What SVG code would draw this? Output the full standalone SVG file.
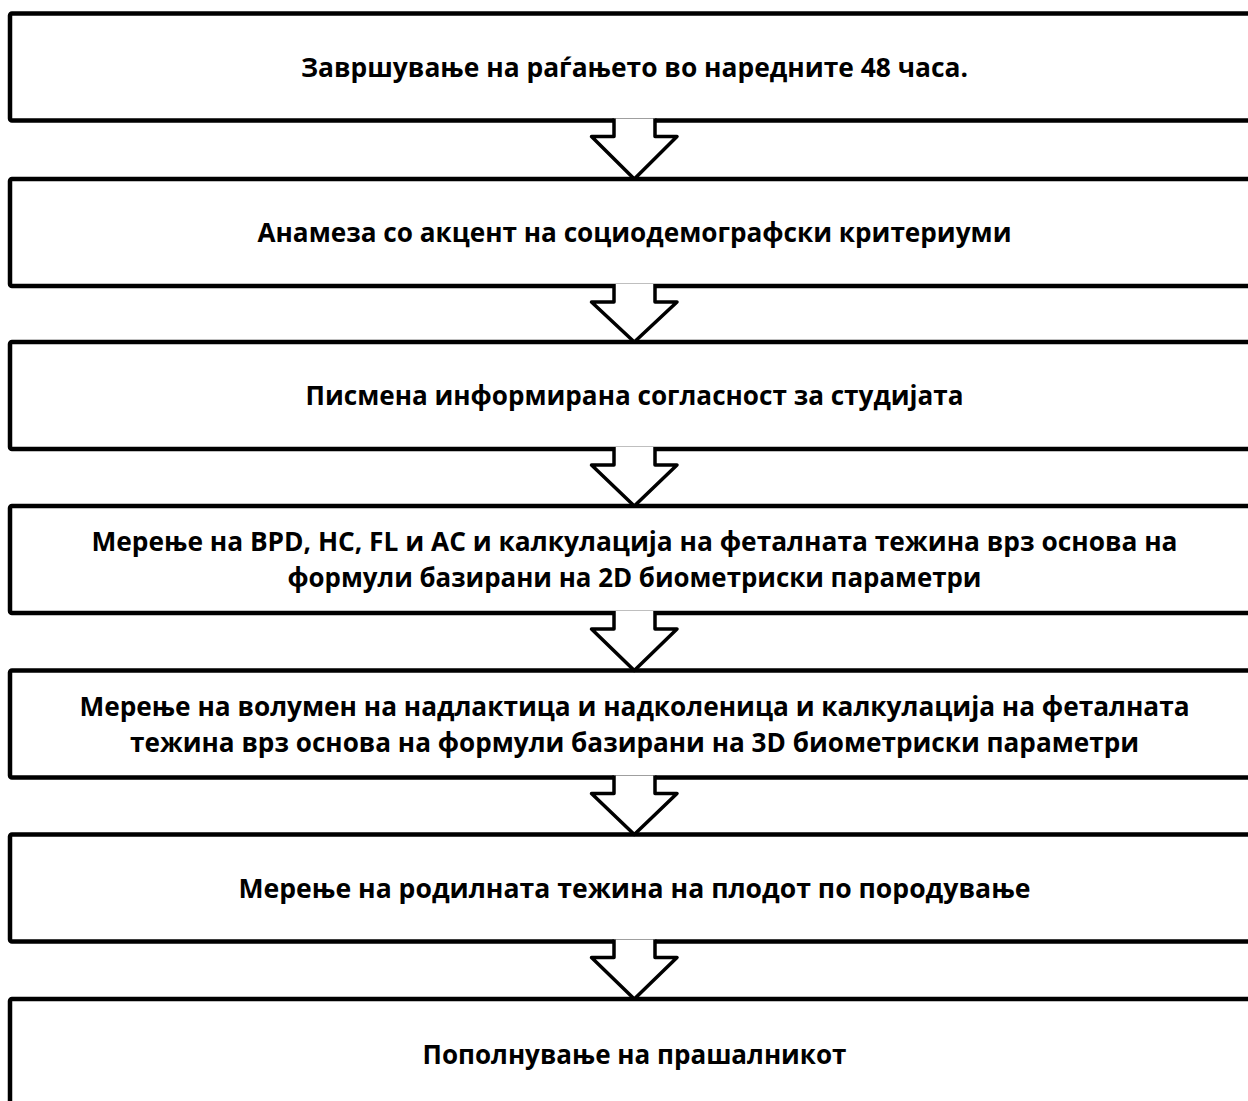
<svg xmlns="http://www.w3.org/2000/svg" width="1248" height="1101" viewBox="0 0 1248 1101">
<style>
.box{fill:#fff;stroke:#000;stroke-width:4.5;stroke-linejoin:round}
.arr{fill:#fff;stroke:#000;stroke-width:3.5;stroke-linejoin:round}
.t{font-family:"Open Sans","Noto Sans","Liberation Sans",sans-serif;font-weight:bold;font-size:27px;fill:#000;text-anchor:middle}
</style>
<rect width="1248" height="1101" fill="#fff"/>
<g id="node1"><rect class="box" x="10" y="13.5" width="1300" height="107" rx="2"/>
<text class="t" x="634.5" y="76.5" textLength="667" lengthAdjust="spacingAndGlyphs">Завршување на раѓањето во наредните 48 часа.</text></g>
<g id="node2"><rect class="box" x="10" y="179" width="1300" height="107" rx="2"/>
<text class="t" x="634.5" y="242" textLength="754" lengthAdjust="spacingAndGlyphs">Анамеза со акцент на социодемографски критериуми</text></g>
<g id="node3"><rect class="box" x="10" y="342" width="1300" height="107" rx="2"/>
<text class="t" x="634.5" y="405" textLength="658" lengthAdjust="spacingAndGlyphs">Писмена информирана согласност за студијата</text></g>
<g id="node4"><rect class="box" x="10" y="506" width="1300" height="107" rx="2"/>
<text class="t" x="634.5" y="551" textLength="1086" lengthAdjust="spacingAndGlyphs">Мерење на BPD, HC, FL и AC и калкулација на феталната тежина врз основа на</text>
<text class="t" x="634.5" y="587" textLength="694" lengthAdjust="spacingAndGlyphs">формули базирани на 2D биометриски параметри</text></g>
<g id="node5"><rect class="box" x="10" y="670.5" width="1300" height="107" rx="2"/>
<text class="t" x="634.5" y="715.5" textLength="1110" lengthAdjust="spacingAndGlyphs">Мерење на волумен на надлактица и надколеница и калкулација на феталната</text>
<text class="t" x="634.5" y="751.5" textLength="1009" lengthAdjust="spacingAndGlyphs">тежина врз основа на формули базирани на 3D биометриски параметри</text></g>
<g id="node6"><rect class="box" x="10" y="834.5" width="1300" height="107" rx="2"/>
<text class="t" x="634.5" y="897.5" textLength="792" lengthAdjust="spacingAndGlyphs">Мерење на родилната тежина на плодот по породување</text></g>
<g id="node7"><rect class="box" x="10" y="999" width="1300" height="107" rx="2"/>
<text class="t" x="634.5" y="1064" textLength="424" lengthAdjust="spacingAndGlyphs">Пополнување на прашалникот</text></g>
<g id="connectors">
<path class="arr" d="M614,118.5 V136.5 H591.5 L634.3,179 L677,136.5 H655 V118.5"/>
<path class="arr" d="M614,284 V302 H591.5 L634.3,342 L677,302 H655 V284"/>
<path class="arr" d="M614,447 V465 H591.5 L634.3,506 L677,465 H655 V447"/>
<path class="arr" d="M614,611 V629 H591.5 L634.3,670.5 L677,629 H655 V611"/>
<path class="arr" d="M614,775.5 V793.5 H591.5 L634.3,834.5 L677,793.5 H655 V775.5"/>
<path class="arr" d="M614,939.5 V957.5 H591.5 L634.3,999 L677,957.5 H655 V939.5"/>
</g>
</svg>
